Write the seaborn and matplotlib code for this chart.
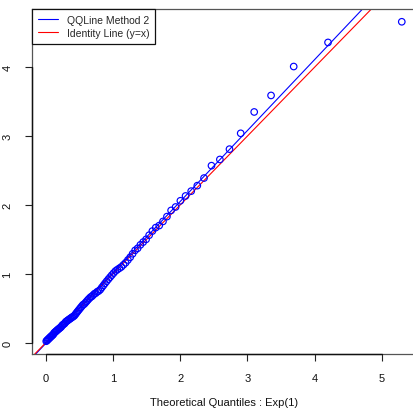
import numpy as np
import pandas as pd
import matplotlib
matplotlib.use("Agg")
import matplotlib.pyplot as plt
from matplotlib.lines import Line2D
import seaborn as sns

# Theoretical Exp(1) quantiles for the 100 plotting positions
theoretical = [
    0.005, 0.015, 0.025, 0.036, 0.046, 0.057, 0.067, 0.078, 0.089, 0.100,
    0.111, 0.122, 0.134, 0.145, 0.157, 0.168, 0.180, 0.192, 0.205, 0.217,
    0.229, 0.242, 0.255, 0.268, 0.281, 0.294, 0.308, 0.322, 0.335, 0.350,
    0.364, 0.378, 0.393, 0.408, 0.423, 0.439, 0.454, 0.470, 0.486, 0.503,
    0.519, 0.536, 0.553, 0.571, 0.589, 0.607, 0.625, 0.644, 0.664, 0.683,
    0.703, 0.724, 0.744, 0.766, 0.787, 0.810, 0.832, 0.856, 0.879, 0.904,
    0.929, 0.955, 0.981, 1.008, 1.036, 1.064, 1.094, 1.124, 1.155, 1.187,
    1.221, 1.255, 1.291, 1.328, 1.366, 1.407, 1.448, 1.492, 1.537, 1.585,
    1.635, 1.687, 1.743, 1.802, 1.864, 1.931, 2.002, 2.079, 2.163, 2.254,
    2.354, 2.465, 2.590, 2.733, 2.900, 3.101, 3.352, 3.689, 4.200, 5.298,
]

# Ordered sample values
sample = [
    0.02, 0.03, 0.04, 0.05, 0.06, 0.07, 0.08, 0.09, 0.10, 0.11,
    0.12, 0.14, 0.15, 0.16, 0.17, 0.18, 0.19, 0.20, 0.21, 0.22,
    0.23, 0.25, 0.26, 0.27, 0.28, 0.30, 0.31, 0.32, 0.33, 0.34,
    0.35, 0.36, 0.37, 0.38, 0.39, 0.41, 0.43, 0.45, 0.47, 0.49,
    0.51, 0.53, 0.55, 0.56, 0.58, 0.60, 0.62, 0.64, 0.66, 0.67,
    0.69, 0.71, 0.72, 0.74, 0.75, 0.77, 0.80, 0.83, 0.86, 0.89,
    0.92, 0.95, 0.98, 1.01, 1.04, 1.06, 1.08, 1.10, 1.13, 1.16,
    1.20, 1.24, 1.29, 1.34, 1.37, 1.42, 1.46, 1.50, 1.56, 1.62,
    1.67, 1.70, 1.76, 1.83, 1.92, 1.97, 2.06, 2.13, 2.20, 2.28,
    2.39, 2.57, 2.66, 2.81, 3.04, 3.35, 3.59, 4.01, 4.36, 4.66,
]

# Reference lines
qqline_intercept = -0.01
qqline_slope = 1.03
identity_intercept = 0.0
identity_slope = 1.0

legend_labels = ["QQLine Method 2", "Identity Line (y=x)"]
x_label = "Theoretical Quantiles : Exp(1)"
x_ticks = [0, 1, 2, 3, 4, 5]
y_ticks = [0, 1, 2, 3, 4]

sns.set_style("white")
plt.rcParams["font.family"] = ["Liberation Sans", "DejaVu Sans"]

W, H = 413, 414
fig = plt.figure(figsize=(W / 100, H / 100), dpi=100)
left, right, top, bottom = 32, 416, 10, 355
ax = fig.add_axes([left / W, 1 - bottom / H, (right - left) / W, (bottom - top) / H])

df = pd.DataFrame({"theoretical": theoretical, "sample": sample})
sns.scatterplot(data=df, x="theoretical", y="sample", ax=ax, marker="o",
                s=22, facecolors="none", edgecolor="#0000FF", linewidth=0.85,
                zorder=3)

ax.axline((0, qqline_intercept), slope=qqline_slope, color="#0000FF", lw=0.8, zorder=2)
ax.axline((0, identity_intercept), slope=identity_slope, color="#FF0000", lw=0.8, zorder=2)

xmin, xmax = min(theoretical), max(theoretical)
ymin, ymax = min(sample), max(sample)
xpad = (xmax - xmin) * 0.04
ypad = (ymax - ymin) * 0.04
ax.set_xlim(xmin - xpad, xmax + xpad)
ax.set_ylim(ymin - ypad, ymax + ypad)

ax.set_xticks(x_ticks)
ax.set_yticks(y_ticks)
ax.set_xticklabels([str(t) for t in x_ticks])
ax.set_yticklabels([str(t) for t in y_ticks], rotation=90, va="center")
ax.tick_params(axis="both", direction="out", length=5, width=0.8, color="#222222",
               labelsize=8, labelcolor="#111111")
ax.tick_params(axis="x", bottom=True, pad=9)
ax.tick_params(axis="y", left=True, pad=9)

ax.set_xlabel(x_label, fontsize=8, color="#111111", labelpad=10)
ax.set_ylabel("")

for side in ["left", "bottom", "top", "right"]:
    ax.spines[side].set_visible(True)
    ax.spines[side].set_color("#555555")
    ax.spines[side].set_linewidth(0.9)

# Axis lines spanning the tick range
ax.plot([x_ticks[0], x_ticks[-1]], [ax.get_ylim()[0]] * 2, color="#111111",
        lw=1.0, clip_on=False, zorder=4)
ax.plot([ax.get_xlim()[0]] * 2, [y_ticks[0], y_ticks[-1]], color="#111111",
        lw=1.0, clip_on=False, zorder=4)

handles = [Line2D([0], [0], color="#0000FF", lw=0.8),
           Line2D([0], [0], color="#FF0000", lw=0.8)]
leg = ax.legend(handles, legend_labels, loc="upper left", fontsize=7.5,
                frameon=True, fancybox=False, framealpha=1, edgecolor="#111111",
                borderaxespad=0, handlelength=1.9, handletextpad=0.9,
                borderpad=0.55, labelspacing=0.3)
leg.get_frame().set_linewidth(0.9)

fig.savefig("out.png", dpi=100)
